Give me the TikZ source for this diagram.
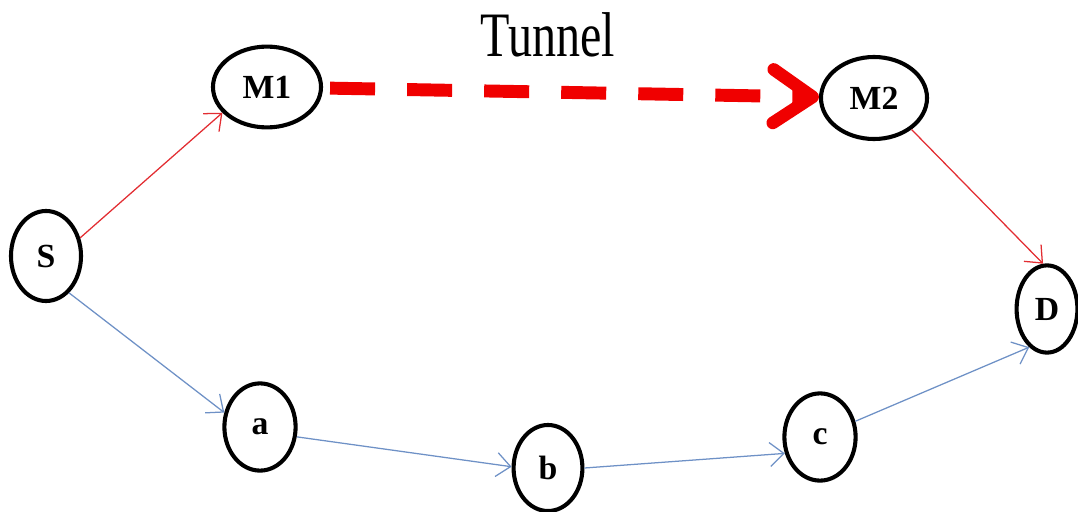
\documentclass[tikz,border=0pt]{standalone}
\usepackage{fontspec}
\setmainfont{Liberation Serif}
\usepackage{tikz}
\usetikzlibrary{shapes.geometric,arrows.meta}

\definecolor{pathred}{RGB}{226,45,50}
\definecolor{pathblue}{RGB}{110,145,198}
\definecolor{tunnelred}{RGB}{240,0,0}

\tikzset{
  host/.style={ellipse, draw, line width=2.9pt, inner sep=0pt,
    minimum width=1.78cm, minimum height=2.18cm,
    font=\fontsize{24}{24}\selectfont\bfseries},
  router/.style={host, minimum width=2.7cm, minimum height=2.02cm},
  redpath/.style={pathred, line width=0.9pt, -{Straight Barb[length=10pt,width=17pt]}},
  bluepath/.style={pathblue, line width=0.9pt, -{Straight Barb[length=10pt,width=17pt]}}
}

\begin{document}
\begin{tikzpicture}[x=0.025cm, y=-0.025cm]
\useasboundingbox (0,0) rectangle (1078,512);

\node [host, minimum width=1.75cm, minimum height=2.25cm] (S) at (46,256) {S};
\node [router] (M1) at (267,87) {M1};
\node [router, minimum width=2.65cm, minimum height=2.05cm] (M2) at (874,98) {M2};
\node [host, minimum width=1.52cm] (D) at (1047,309) {D};
\node [host] (a) at (260,427) {a};
\node [host, minimum width=1.72cm, minimum height=2.15cm] (b) at (548,468) {b};
\node [host] (c) at (820,437) {c};

\node [anchor=base, font=\fontsize{45}{45}\selectfont] (tunnel) at (548,57) {\scalebox{0.76}[1]{Tunnel}};

% path through the tunnel
\draw [redpath] (S.28) -- (M1.210);
\draw [tunnelred, line width=9.2pt, dash pattern=on 32pt off 22.8pt, shorten <=5pt,
  -{Straight Barb[round, length=28pt, width=38pt, line width=9pt]}] (M1) -- (M2);
\draw [redpath] (M2.-40) -- (D.95);

% normal path
\draw [bluepath] (S.-58) -- (a.158);
\draw [bluepath] (a.-15) -- (b.178);
\draw [bluepath] (b.east) -- (c.205);
\draw [bluepath] (c.24) -- (D.245);

\end{tikzpicture}
\end{document}
